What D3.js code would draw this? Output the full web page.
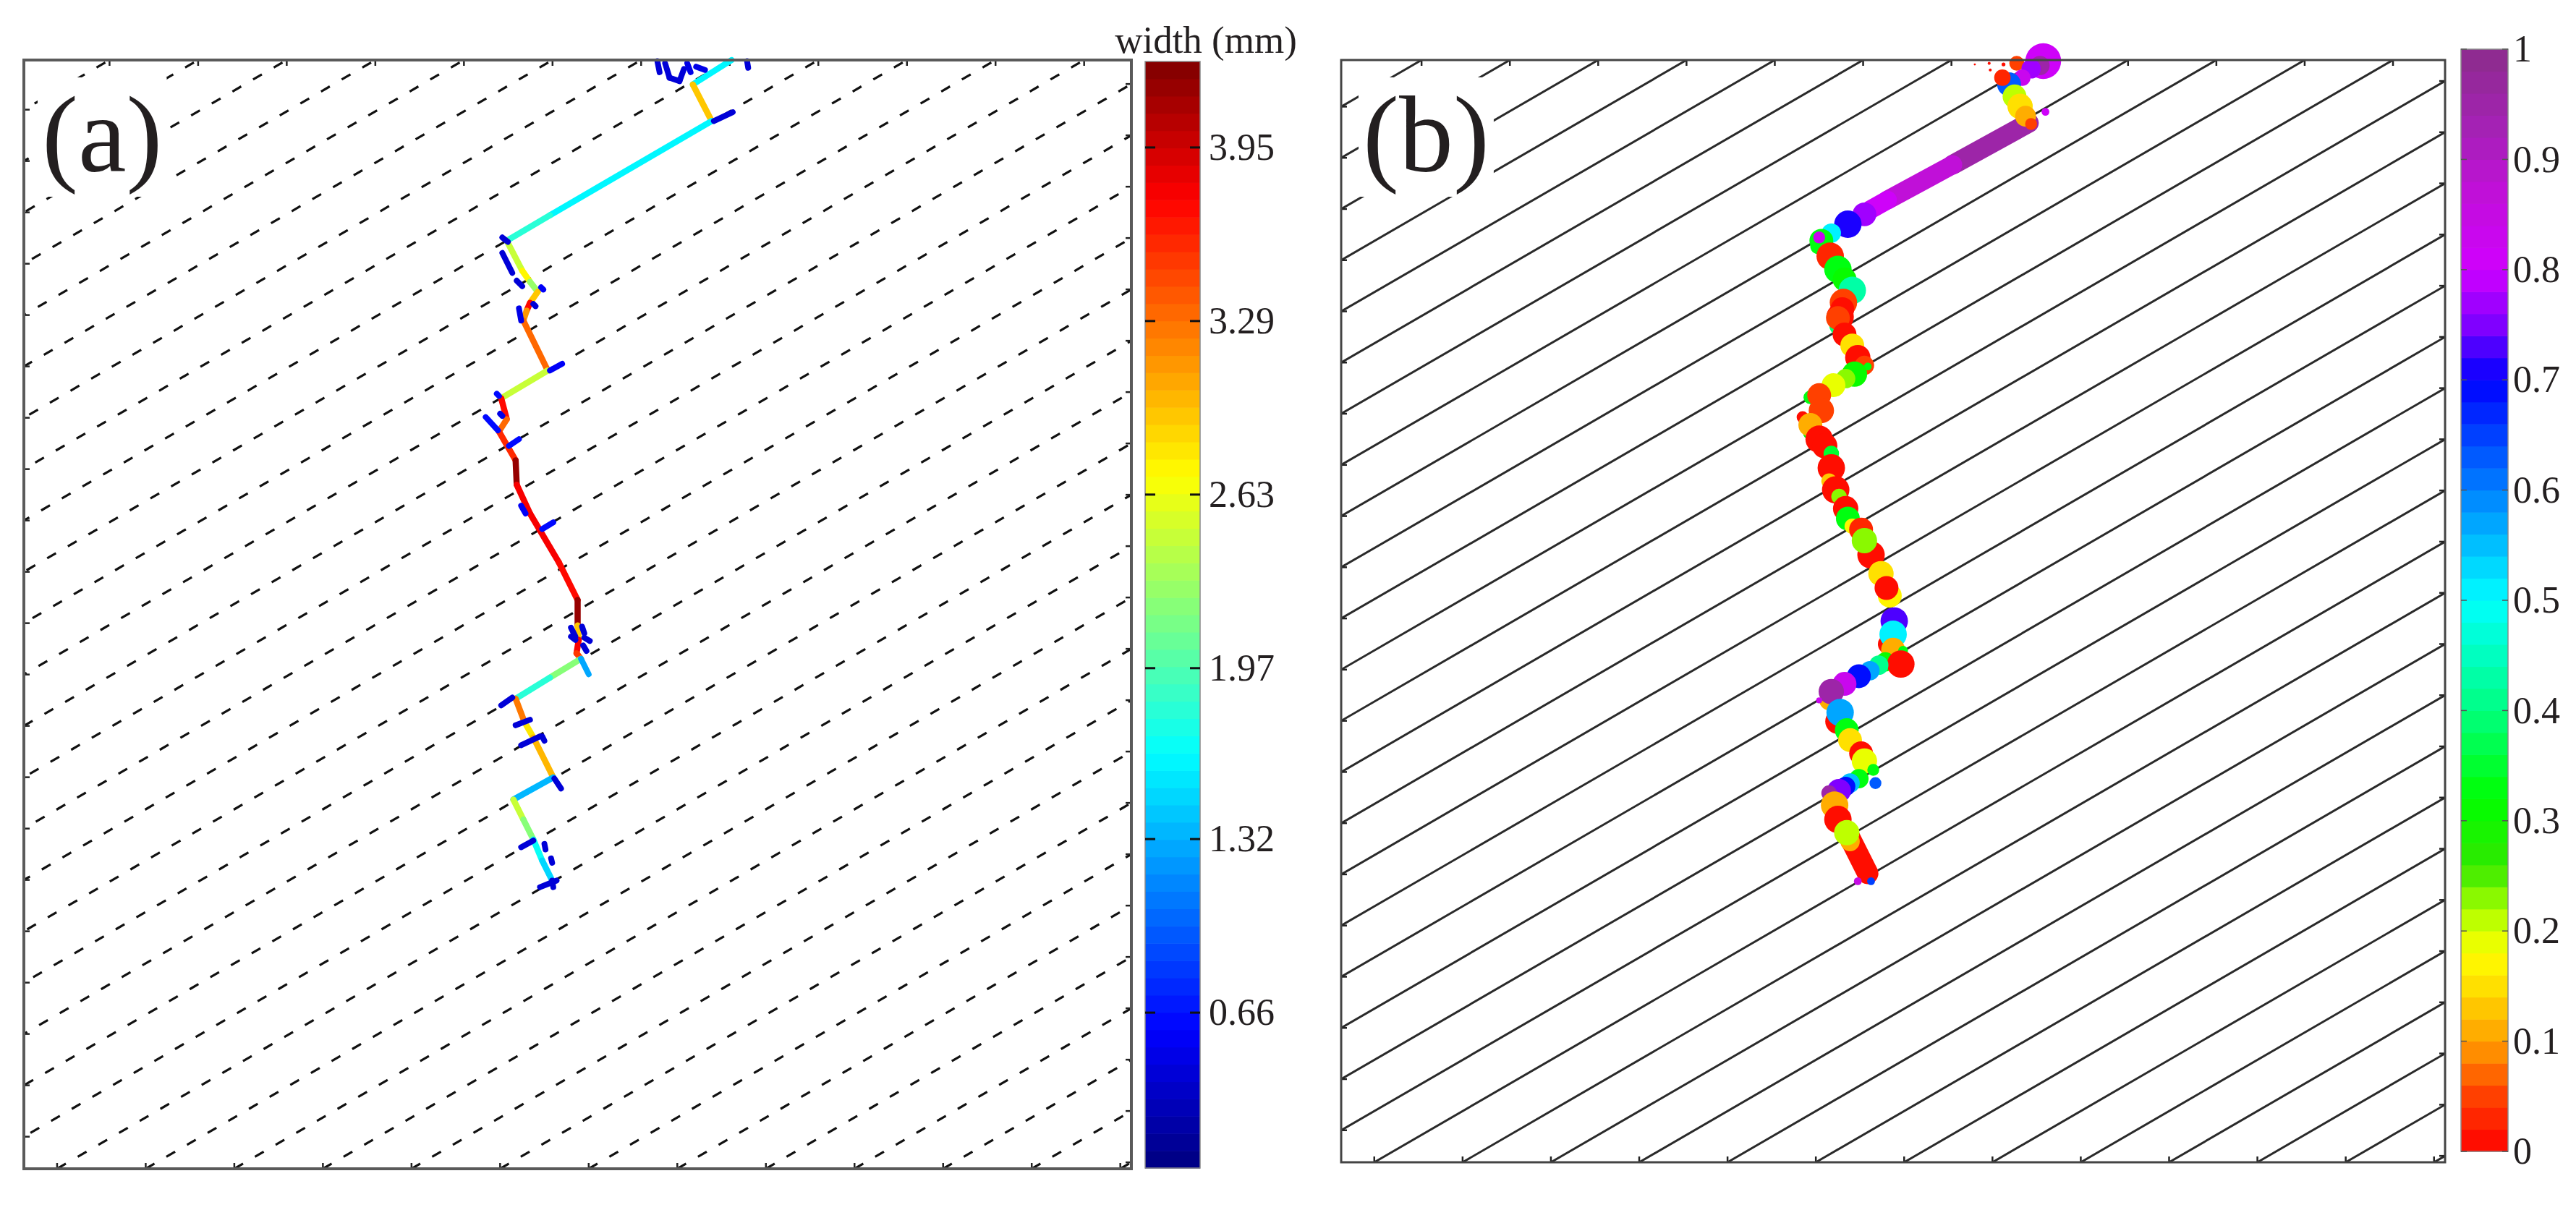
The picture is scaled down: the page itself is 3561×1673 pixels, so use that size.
<!DOCTYPE html>
<html>
<head>
<meta charset="utf-8">
<script src="https://cdn.jsdelivr.net/npm/d3@7"></script>
<style>
  body { margin: 0; background: #fff; }
  svg { display: block; }
  text { font-family: "Liberation Serif", "Times New Roman", "DejaVu Serif", serif; }
</style>
</head>
<body>
<svg id="fig" width="3561" height="1673"></svg>
<script>
// ---- panel (a): crack trace, % of specimen frame (x right, y down), aperture in mm per segment
const traceX = [63.9, 60.4, 62.1, 47.5, 43.6, 45.0, 45.7, 46.4, 45.7, 45.4, 45.1, 47.3, 43.1, 43.6, 42.9, 44.4, 44.5,
  45.7, 48.3, 50.0, 50.0, 50.1, 49.9, 50.3, 47.5, 44.4, 45.2, 46.0, 47.8, 44.2, 45.1, 46.0, 46.8, 47.7];
const traceY = [0, 2.2, 5.5, 14.0, 16.3, 19.0, 20.0, 20.9, 21.9, 22.6, 23.5, 28.0, 30.5, 32.4, 33.5, 36.1, 38.3,
  40.9, 45.3, 48.7, 51.0, 52.3, 53.5, 54.0, 55.7, 57.6, 59.7, 61.1, 64.7, 66.7, 68.5, 70.3, 72.2, 74.0];
// segment i joins vertex i and i+1
const traceWidth = [1.6, 2.95, 1.6, 1.8, 2.45, 2.7, 2.3, 2.9, 3.7, 3.1, 3.3, 2.45, 3.75, 3.3, 3.6, 4.2, 3.8,
  3.8, 3.75, 4.2, 2.9, 3.8, 3.5, 2.2, 1.8, 3.25, 2.8, 3.0, 1.35, 2.45, 2.2, 1.7, 1.5];
// short side branches [x1, y1, x2, y2, width]
const branches = [
  [57.2, 0.1, 57.4, 1.1, 0.45], [57.9, 0.3, 58.3, 1.6, 0.4], [58.3, 1.6, 59.2, 1.9, 0.4], [59.2, 1.9, 59.6, 0.8, 0.45],
  [59.9, 0.3, 60.2, 1.1, 0.5], [60.7, 0.6, 61.5, 0.9, 0.5], [65.3, 0.1, 65.4, 0.7, 0.4], [62.3, 5.5, 64.0, 4.7, 0.45],
  [43.2, 16.0, 43.7, 16.4, 0.4], [43.2, 17.4, 44.1, 19.2, 0.4], [44.5, 19.9, 45.0, 20.4, 0.4], [46.7, 20.5, 46.9, 20.7, 0.55],
  [44.7, 22.4, 44.9, 23.5, 0.5], [46.0, 22.0, 46.2, 22.2, 0.45], [47.5, 28.0, 48.6, 27.4, 0.55], [42.7, 30.1, 42.9, 30.3, 0.6],
  [41.7, 32.2, 42.8, 33.4, 0.6], [43.0, 31.9, 43.2, 32.1, 0.5], [43.8, 34.8, 44.7, 34.2, 0.6], [44.9, 40.2, 45.3, 40.9, 0.55],
  [46.8, 42.3, 47.8, 41.7, 0.6], [49.4, 51.2, 49.8, 52.0, 0.45], [50.4, 51.1, 50.6, 51.7, 0.45], [50.6, 52.1, 51.1, 52.4, 0.45],
  [50.5, 52.8, 50.8, 53.3, 0.45], [49.4, 52.0, 49.8, 52.3, 0.45], [50.3, 54.0, 51.0, 55.4, 1.3],
  [43.1, 58.2, 44.1, 57.5, 0.4], [44.4, 60.0, 45.7, 59.5, 0.4], [44.9, 61.8, 46.6, 61.0, 0.4], [46.8, 61.0, 47.0, 61.4, 0.4],
  [47.9, 64.8, 48.5, 65.7, 0.4], [44.9, 71.0, 46.0, 70.4, 0.4], [47.0, 70.7, 47.1, 71.2, 0.4], [47.6, 72.0, 47.7, 72.4, 0.4],
  [46.6, 74.6, 48.1, 74.0, 0.4], [47.7, 74.0, 47.8, 74.6, 0.4]
];
const widthDomain = [0.069, 4.277];
const widthTicks = [0.66, 1.32, 1.97, 2.63, 3.29, 3.95];

// ---- panel (b): ratio along the trace, [x, y, ratio, radius] in frame %
const bandRuns = [
  [62.3, 5.7, 55.4, 9.5, 0.94, 0.85], [55.4, 9.5, 49.5, 12.7, 0.87, 0.82],
  [49.5, 12.7, 47.9, 13.6, 0.8, 0.8], [45.8, 70.0, 47.7, 73.8, 0, 0.92]
];
const ratioDots = [
  [57.4, 0.4, 0, 0.07], [58.7, 0.3, 0, 0.1], [60.0, 0.4, 0, 0.13], [58.8, 0.9, 0, 0.1], [61.2, 0.3, 0.04, 0.5],
  [63.6, 0.1, 0.8, 1.2], [63.3, 0.5, 0.95, 0.65], [62.5, 0.8, 0.76, 0.65], [61.7, 1.6, 0.82, 0.55], [60.5, 2.2, 0.62, 0.8],
  [59.9, 1.6, 0.02, 0.55], [61.0, 3.3, 0.2, 0.8], [61.5, 4.2, 0.15, 0.85], [62.0, 5.1, 0.1, 0.7], [62.5, 5.8, 0.05, 0.4],
  [63.8, 4.7, 0.8, 0.26], [47.4, 14.0, 0.76, 0.8], [45.9, 14.9, 0.7, 0.92], [44.4, 15.7, 0.5, 0.65], [43.5, 16.4, 0.33, 0.8],
  [43.2, 16.9, 0.33, 0.52], [43.3, 16.1, 0.82, 0.4], [44.3, 17.8, 0.02, 0.92], [45.0, 19.0, 0.32, 0.92], [45.6, 19.9, 0.3, 0.8],
  [46.3, 20.9, 0.43, 0.92], [45.5, 22.0, 0.04, 0.92], [45.1, 24.1, 0.38, 0.65], [45.2, 23.3, 0.01, 0.92], [45.4, 22.6, 0, 0.8],
  [45.0, 23.4, 0.04, 0.8], [45.6, 24.9, 0.01, 0.8], [46.3, 25.9, 0.15, 0.8], [46.8, 27.0, 0.01, 0.85], [47.4, 27.7, 0.05, 0.65],
  [47.7, 27.8, 0.32, 0.26], [46.5, 28.5, 0.3, 0.85], [45.7, 28.9, 0.22, 0.65], [44.6, 29.5, 0.18, 0.8], [42.5, 30.6, 0.33, 0.46],
  [43.3, 30.4, 0.05, 0.8], [43.5, 31.8, 0.05, 0.85], [41.8, 32.4, 0.01, 0.4], [42.3, 33.9, 0.33, 0.33], [42.5, 33.1, 0.1, 0.8],
  [43.3, 34.4, 0, 0.92], [43.8, 35.0, 0, 0.85], [44.4, 35.7, 0.35, 0.52], [44.4, 37.0, 0, 0.92], [44.2, 38.2, 0.12, 0.52],
  [44.8, 39.0, 0, 0.92], [45.1, 39.6, 0.22, 0.52], [45.7, 40.7, 0, 0.85], [45.9, 41.6, 0.33, 0.8], [46.3, 42.3, 0.17, 0.52],
  [47.4, 41.9, 0.07, 0.26], [47.1, 42.6, 0.02, 0.8], [48.0, 44.9, 0, 0.92], [47.4, 43.6, 0.22, 0.85], [48.9, 46.6, 0.15, 0.85],
  [49.7, 48.6, 0.17, 0.8], [49.4, 47.9, 0, 0.8], [50.1, 50.9, 0.72, 0.92], [49.5, 53.0, 0, 0.65], [50.0, 52.1, 0.5, 0.92],
  [50.0, 53.5, 0.1, 0.8], [50.9, 53.6, 0.32, 0.33], [49.3, 54.6, 0.3, 0.65], [50.7, 54.8, 0, 0.92], [48.7, 54.9, 0.4, 0.65],
  [47.9, 55.4, 0.57, 0.65], [46.9, 55.9, 0.68, 0.8], [45.6, 56.6, 0.82, 0.8], [44.2, 58.1, 0.1, 0.65], [44.4, 57.3, 0.95, 0.85],
  [43.3, 58.1, 0.82, 0.2], [45.0, 60.0, 0, 0.85], [45.2, 59.2, 0.57, 0.92], [45.8, 60.8, 0.33, 0.8], [45.7, 61.3, 0.1, 0.26],
  [46.1, 61.7, 0.15, 0.8], [47.1, 62.9, 0, 0.8], [47.4, 63.6, 0.18, 0.85], [48.2, 64.4, 0.33, 0.4], [48.4, 65.6, 0.62, 0.4],
  [46.9, 65.2, 0.33, 0.65], [46.1, 65.6, 0.55, 0.65], [45.7, 65.9, 0.68, 0.65], [45.1, 66.3, 0.75, 0.8], [44.2, 66.5, 0.95, 0.52],
  [44.7, 67.6, 0.1, 0.92], [45.0, 68.9, 0, 0.92], [46.1, 70.9, 0.1, 0.65], [45.8, 70.1, 0.2, 0.85], [46.8, 74.5, 0.85, 0.26],
  [48.0, 74.5, 0.65, 0.26]
];
const ratioTicks = [0, 0.1, 0.2, 0.3, 0.4, 0.5, 0.6, 0.7, 0.8, 0.9, 1];

// joint set: spacing and offset in frame %, dip of the joints
const jointSpacing = 8.0;
const jointOffset = 3.0;
const jointDip = 30.1;

const svg = d3.select('#fig');
const ink = '#231f20';
const serif = '"Liberation Serif", "Times New Roman", "DejaVu Serif", serif';

// jet colormap, 64 levels
function jet(t) {
  const c = v => Math.max(0, Math.min(1, v));
  return d3.rgb(255 * c(1.5 - Math.abs(4 * t - 3)), 255 * c(1.5 - Math.abs(4 * t - 2)), 255 * c(1.5 - Math.abs(4 * t - 1)));
}
const nJet = 64;
const widthT = d3.scaleLinear().domain(widthDomain).range([0, 1]).clamp(true);
const widthColor = v => jet((Math.min(nJet - 1, Math.floor(widthT(v) * nJet)) + 0.5) / nJet);

// ratio colormap, 50 levels
const ratioRamp = d3.scaleLinear()
  .domain([0, 0.05, 0.1, 0.15, 0.18, 0.22, 0.26, 0.32, 0.4, 0.5, 0.6, 0.7, 0.75, 0.8, 0.87, 0.93, 1])
  .range(['#ff0000', '#ff4000', '#ffa000', '#ffe000', '#ffff00', '#a8ff00', '#30e800', '#00ff00', '#00ff80',
          '#00ffff', '#0080ff', '#0000ff', '#8000ff', '#d000ff', '#c010d8', '#a422b4', '#8b2d8b']);
const nRatio = 50;
const ratioColor = v => ratioRamp((Math.min(nRatio - 1, Math.floor(v * nRatio)) + 0.5) / nRatio);

// ---- frames and scales
const xA = d3.scaleLinear().domain([0, 100]).range([33, 1564]);
const yA = d3.scaleLinear().domain([0, 100]).range([83, 1616]);
const xB = d3.scaleLinear().domain([0, 100]).range([1854, 3380]);
const yB = d3.scaleLinear().domain([0, 100]).range([83, 1607]);

function drawJoints(g, xs, ys, id, dashed) {
  const hPx = ys(100) - ys(0);
  const run = hPx / Math.tan(jointDip * Math.PI / 180) / (xs(1) - xs(0));
  const offs = d3.range(jointOffset - jointSpacing * Math.ceil(run / jointSpacing + 1), 100 + jointSpacing, jointSpacing);

  g.append('clipPath').attr('id', 'clip-' + id)
    .append('rect').attr('x', xs(0)).attr('y', ys(0)).attr('width', xs(100) - xs(0)).attr('height', hPx);

  g.append('g').attr('clip-path', `url(#clip-${id})`)
    .selectAll('line').data(offs).join('line')
    .attr('x1', c => xs(c)).attr('y1', ys(100))
    .attr('x2', c => xs(c + run)).attr('y2', ys(0))
    .attr('stroke', dashed ? '#111' : '#2a2a2a')
    .attr('stroke-width', dashed ? 3.2 : 3)
    .attr('stroke-dasharray', dashed ? '14 19' : null);

  // short inner ticks where the joints cross the frame
  const ticks = [];
  const L = 8;
  offs.forEach(c => {
    if (c >= 0 && c <= 100) ticks.push([xs(c), ys(100), 0, -L]);
    if (c + run >= 0 && c + run <= 100) ticks.push([xs(c + run), ys(0), 0, L]);
    const tl = -c / run;
    if (tl > 0 && tl < 1) ticks.push([xs(0), ys(100 - 100 * tl), L, 0]);
    const tr = (100 - c) / run;
    if (tr > 0 && tr < 1) ticks.push([xs(100), ys(100 - 100 * tr), -L, 0]);
  });
  g.append('g').selectAll('line').data(ticks).join('line')
    .attr('x1', d => d[0]).attr('y1', d => d[1])
    .attr('x2', d => d[0] + d[2]).attr('y2', d => d[1] + d[3])
    .attr('stroke', '#222').attr('stroke-width', 2.5);
}

function drawFrame(g, xs, ys, w, col) {
  g.append('rect')
    .attr('x', xs(0)).attr('y', ys(0))
    .attr('width', xs(100) - xs(0)).attr('height', ys(100) - ys(0))
    .attr('fill', 'none').attr('stroke', col).attr('stroke-width', w);
}

function panelLabel(g, x, y, txt) {
  const t = g.append('text').attr('x', x).attr('y', y)
    .attr('font-family', serif).attr('font-size', 150).attr('fill', ink).text(txt);
  const bb = t.node().getBBox();
  g.insert('rect', 'text')
    .attr('x', bb.x - 6).attr('y', bb.y + 4)
    .attr('width', bb.width + 12).attr('height', bb.height - 2)
    .attr('fill', '#fff');
}

// ---- panel (a)
const gA = svg.append('g');
drawJoints(gA, xA, yA, 'a', true);

const segs = traceWidth.map((w, i) => ({ x1: traceX[i], y1: traceY[i], x2: traceX[i + 1], y2: traceY[i + 1], w }));
gA.append('g').selectAll('line').data(segs).join('line')
  .attr('x1', d => xA(d.x1)).attr('y1', d => yA(d.y1))
  .attr('x2', d => xA(d.x2)).attr('y2', d => yA(d.y2))
  .attr('stroke', d => widthColor(d.w))
  .attr('stroke-width', 8.5).attr('stroke-linecap', 'round');

gA.append('g').selectAll('line').data(branches).join('line')
  .attr('x1', d => xA(d[0])).attr('y1', d => yA(d[1]))
  .attr('x2', d => xA(d[2])).attr('y2', d => yA(d[3]))
  .attr('stroke', d => widthColor(d[4]))
  .attr('stroke-width', 8).attr('stroke-linecap', 'round');

drawFrame(gA, xA, yA, 4, '#5a5a5a');
panelLabel(gA, 58, 237, '(a)');

// colorbar (a)
const cbA = { x: 1583, w: 76 };
const yCbA = d3.scaleLinear().domain(widthDomain).range([1615, 85]);
const stepA = (widthDomain[1] - widthDomain[0]) / nJet;
gA.append('g').selectAll('rect').data(d3.range(nJet)).join('rect')
  .attr('x', cbA.x).attr('width', cbA.w)
  .attr('y', i => yCbA(widthDomain[0] + (i + 1) * stepA))
  .attr('height', i => yCbA(widthDomain[0] + i * stepA) - yCbA(widthDomain[0] + (i + 1) * stepA) + 0.6)
  .attr('fill', i => jet((i + 0.5) / nJet));
gA.append('rect').attr('x', cbA.x).attr('y', yCbA.range()[1]).attr('width', cbA.w)
  .attr('height', yCbA.range()[0] - yCbA.range()[1]).attr('fill', 'none').attr('stroke', '#8a8a8a').attr('stroke-width', 1.5);
const tkA = gA.append('g').selectAll('g').data(widthTicks).join('g')
  .attr('transform', d => `translate(0,${yCbA(d)})`);
tkA.append('line').attr('x1', cbA.x).attr('x2', cbA.x + 14).attr('stroke', '#111').attr('stroke-width', 3);
tkA.append('line').attr('x1', cbA.x + cbA.w - 14).attr('x2', cbA.x + cbA.w).attr('stroke', '#111').attr('stroke-width', 3);
tkA.append('text').attr('x', cbA.x + cbA.w + 12).attr('dy', '0.33em')
  .attr('font-family', serif).attr('font-size', 52).attr('fill', ink).text(d => d3.format('.2f')(d));
gA.append('text').attr('x', 1667).attr('y', 73).attr('text-anchor', 'middle')
  .attr('font-family', serif).attr('font-size', 53).attr('fill', ink).text('width (mm)');

// ---- panel (b)
const gB = svg.append('g');
drawJoints(gB, xB, yB, 'b', false);
const rB = s => xB(s) - xB(0);
const dotR = s => 1.35 * rB(s);

gB.append('g').selectAll('line').data(bandRuns).join('line')
  .attr('x1', d => xB(d[0])).attr('y1', d => yB(d[1]))
  .attr('x2', d => xB(d[2])).attr('y2', d => yB(d[3]))
  .attr('stroke', d => ratioColor(d[4]))
  .attr('stroke-width', d => 2.1 * rB(d[5])).attr('stroke-linecap', 'round');

gB.append('g').selectAll('circle').data(ratioDots).join('circle')
  .attr('cx', d => xB(d[0])).attr('cy', d => yB(d[1]))
  .attr('r', d => dotR(d[3]))
  .attr('fill', d => ratioColor(d[2]));

drawFrame(gB, xB, yB, 3, '#444');
panelLabel(gB, 1884, 237, '(b)');

// colorbar (b)
const cbB = { x: 3402, w: 65 };
const yCbB = d3.scaleLinear().domain([0, 1]).range([1592, 68]);
gB.append('g').selectAll('rect').data(d3.range(nRatio)).join('rect')
  .attr('x', cbB.x).attr('width', cbB.w)
  .attr('y', i => yCbB((i + 1) / nRatio))
  .attr('height', i => yCbB(i / nRatio) - yCbB((i + 1) / nRatio) + 0.6)
  .attr('fill', i => ratioRamp((i + 0.5) / nRatio));
gB.append('rect').attr('x', cbB.x).attr('y', yCbB(1)).attr('width', cbB.w)
  .attr('height', yCbB(0) - yCbB(1)).attr('fill', 'none').attr('stroke', '#8a8a8a').attr('stroke-width', 1.5);
const tkB = gB.append('g').selectAll('g').data(ratioTicks).join('g')
  .attr('transform', d => `translate(0,${yCbB(d)})`);
tkB.append('line').attr('x1', cbB.x).attr('x2', cbB.x + 8).attr('stroke', '#555').attr('stroke-width', 1.5);
tkB.append('line').attr('x1', cbB.x + cbB.w - 8).attr('x2', cbB.x + cbB.w).attr('stroke', '#555').attr('stroke-width', 1.5);
tkB.append('text').attr('x', cbB.x + cbB.w + 7).attr('dy', '0.33em')
  .attr('font-family', serif).attr('font-size', 52).attr('fill', ink).text(d => String(d));
</script>
</body>
</html>
